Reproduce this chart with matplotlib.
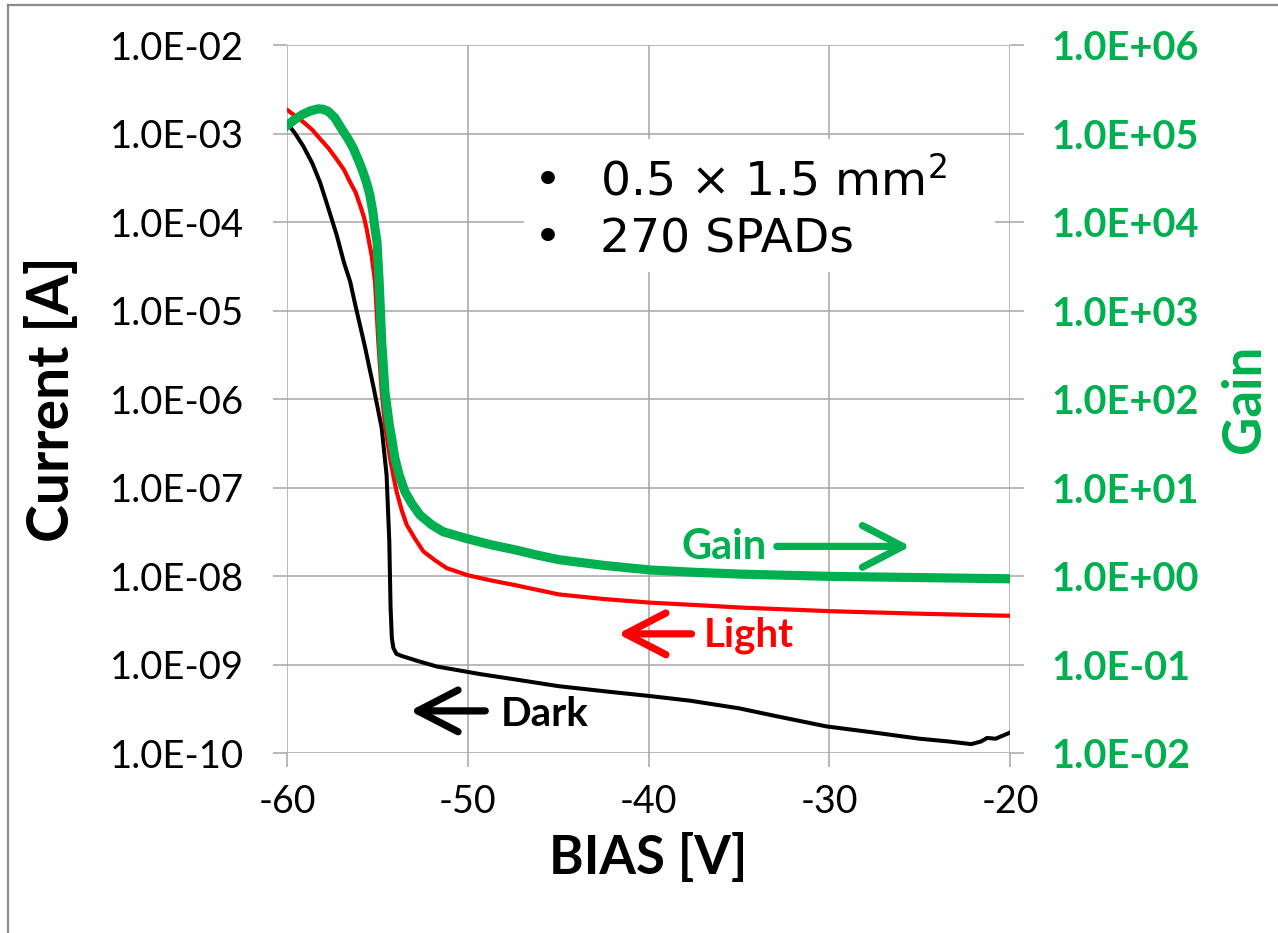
import matplotlib
matplotlib.use("Agg")
import matplotlib.pyplot as plt
from matplotlib.ticker import FixedLocator, FuncFormatter, NullLocator
from matplotlib.patches import Rectangle
from matplotlib.lines import Line2D

# ---------------- data ----------------
bias_dark = [-60, -59.55, -59.1, -58.6, -58.17, -57.7, -57.25, -56.85, -56.5, -56.24,
             -55.7, -55.2, -54.76, -54.49, -54.34, -54.27, -54.2, -54.12, -53.95,
             -53.66, -52.8, -51.72, -49.33, -47.0, -45.0, -42.5, -39.92, -37.7,
             -35.0, -32.9, -30.17, -27.5, -25.0, -23.4, -22.14, -21.6, -21.27,
             -20.8, -20]
current_dark = [1.32e-3, 1.0e-3, 7.2e-4, 4.6e-4, 2.8e-4, 1.4e-4, 7.1e-5, 3.5e-5,
                2.1e-5, 1.2e-5, 4.0e-6, 1.32e-6, 4.7e-7, 1.38e-7, 2.45e-8, 4.4e-9,
                2.0e-9, 1.55e-9, 1.32e-9, 1.25e-9, 1.1e-9, 9.5e-10, 7.8e-10,
                6.6e-10, 5.7e-10, 5.0e-10, 4.4e-10, 3.9e-10, 3.2e-10, 2.6e-10,
                2.0e-10, 1.7e-10, 1.45e-10, 1.35e-10, 1.26e-10, 1.35e-10,
                1.48e-10, 1.45e-10, 1.7e-10]

bias_light = [-60, -59.55, -59.1, -58.6, -58.17, -57.7, -57.25, -56.85, -56.5, -56.2,
              -55.96, -55.75, -55.59, -55.32, -55.13, -54.95, -54.76, -54.58,
              -54.3, -54.1, -53.93, -53.65, -53.38, -52.9, -52.46, -51.8, -51.17,
              -50.0, -48.7, -47.4, -44.97, -42.5, -39.92, -37.4, -34.9, -29.9,
              -25.0, -20]
current_light = [1.86e-3, 1.58e-3, 1.35e-3, 1.1e-3, 8.7e-4, 6.8e-4, 5.1e-4, 3.9e-4,
                 2.8e-4, 2.15e-4, 1.55e-4, 1.15e-4, 8.3e-5, 4.2e-5, 2.1e-5, 4.5e-6,
                 1.2e-6, 5.1e-7, 2.14e-7, 1.3e-7, 8.9e-8, 5.5e-8, 3.8e-8, 2.6e-8,
                 1.9e-8, 1.5e-8, 1.23e-8, 1.02e-8, 8.9e-9, 7.9e-9, 6.2e-9, 5.5e-9,
                 5.0e-9, 4.7e-9, 4.4e-9, 4.0e-9, 3.75e-9, 3.55e-9]

bias_gain = [-60, -59.55, -59.1, -58.7, -58.27, -58.0, -57.72, -57.35, -56.97,
             -56.65, -56.33, -56.05, -55.78, -55.58, -55.41, -55.25, -55.13,
             -55.02, -54.9, -54.76, -54.58, -54.34, -54.2, -54.03, -53.8, -53.48,
             -53.1, -52.65, -52.0, -51.36, -50.0, -48.7, -47.4, -46.2, -44.97,
             -42.5, -39.92, -37.4, -34.9, -29.9, -25.0, -20]
gain = [1.23e5, 1.45e5, 1.66e5, 1.8e5, 1.9e5, 1.88e5, 1.78e5, 1.5e5, 1.12e5,
        8.9e4, 6.8e4, 5.0e4, 3.6e4, 2.7e4, 2.0e4, 1.3e4, 8.3e3, 5.9e3, 2.1e3,
        447, 120, 51, 35, 21.4, 14, 9.0, 6.6, 4.9, 3.8, 3.16, 2.63, 2.25, 1.98,
        1.73, 1.53, 1.32, 1.17, 1.1, 1.05, 0.99, 0.96, 0.93]

x_ticks = [-60, -50, -40, -30, -20]
current_ticks = [1e-10, 1e-9, 1e-8, 1e-7, 1e-6, 1e-5, 1e-4, 1e-3, 1e-2]
gain_ticks = [1e-2, 1e-1, 1e0, 1e1, 1e2, 1e3, 1e4, 1e5, 1e6]

GREEN = "#00B050"
RED = "#FF0000"
GRID = "#A6A6A6"

# ---------------- figure ----------------
fig = plt.figure(figsize=(12.78, 9.33), dpi=100)
ax = fig.add_axes([287 / 1278, 1 - 753 / 933, 723 / 1278, 708 / 933])
ax2 = ax.twinx()

sci = FuncFormatter(lambda v, p: f"{v:.1E}")

ax.set_xlim(-60, -20)
ax.set_yscale("log")
ax.set_ylim(1e-10, 1e-2)
ax.xaxis.set_major_locator(FixedLocator(x_ticks))
ax.yaxis.set_major_locator(FixedLocator(current_ticks))
ax.yaxis.set_minor_locator(NullLocator())
ax.yaxis.set_major_formatter(sci)
ax.xaxis.set_major_formatter(FuncFormatter(lambda v, p: f"{v:.0f}"))
ax.grid(True, color=GRID, linewidth=1.1)
ax.set_axisbelow(True)

ax2.set_yscale("log")
ax2.set_ylim(1e-2, 1e6)
ax2.yaxis.set_major_locator(FixedLocator(gain_ticks))
ax2.yaxis.set_minor_locator(NullLocator())
ax2.yaxis.set_major_formatter(sci)

for a in (ax, ax2):
    for s in a.spines.values():
        s.set_visible(False)

ax.tick_params(axis="y", which="major", direction="out", length=10, width=1.1,
               color=GRID, pad=21, labelsize=27.5, labelcolor="black")
ax.tick_params(axis="x", which="major", direction="out", length=10, width=1.1,
               color=GRID, pad=12, labelsize=27, labelcolor="black")
ax2.tick_params(axis="y", which="major", direction="out", length=10, width=1.1,
                color=GRID, pad=20, labelsize=28.5, labelcolor=GREEN)
for lab in ax.get_xticklabels() + ax.get_yticklabels():
    lab.set_fontfamily("Lato")
for lab in ax2.get_yticklabels():
    lab.set_fontfamily("Lato")
    lab.set_fontweight("bold")

# ---------------- curves ----------------
ax.plot(bias_dark, current_dark, color="black", lw=2.9, solid_joinstyle="round",
        solid_capstyle="round", zorder=3)
ax.plot(bias_light, current_light, color=RED, lw=3.0, solid_joinstyle="round",
        solid_capstyle="round", zorder=3)
ax2.plot(bias_gain, gain, color=GREEN, lw=6.6, solid_joinstyle="round", zorder=3)

# ---------------- labels ----------------
ax.set_xlabel("BIAS [V]", fontfamily="Lato", fontweight="bold", fontsize=38)
ax.set_ylabel("Current [A]", fontfamily="Lato", fontweight="bold", fontsize=41)
ax2.set_ylabel("Gain", fontfamily="Lato", fontweight="bold", fontsize=38, color=GREEN)
ax.xaxis.set_label_coords(0.5, (753 - 858) / 708)
ax.yaxis.set_label_coords((52 - 287) / 723, 0.5)
ax2.yaxis.set_label_coords((1245 - 287) / 723, 0.5)
ax.xaxis.label.set_va("center")
ax.yaxis.label.set_va("center")
ax2.yaxis.label.set_va("center")

# ---------------- text box ----------------
ax.add_patch(Rectangle((-46.9, 2.7e-5), 26.06, 8.6e-4 - 2.7e-5, facecolor="white",
                       edgecolor="none", zorder=1))
box_lines = [r"0.5 × 1.5 mm$^{2}$", "270 SPADs"]
box_y = [2.01e-4, 4.58e-5]
for txt, yy in zip(box_lines, box_y):
    ax.text(-45.56, yy, "•", ha="center", va="baseline", fontsize=34,
            fontfamily="DejaVu Sans", zorder=4)
    ax.text(-42.69, yy, txt, ha="left", va="baseline", fontsize=34,
            fontfamily="DejaVu Sans", zorder=4)

# ---------------- arrow annotations ----------------
def arrow(x0, x1, y, color):
    ax.annotate("", xy=(x1, y), xytext=(x0, y),
                arrowprops=dict(arrowstyle="->,head_length=2.9,head_width=1.5",
                                lw=5.2, color=color, shrinkA=0, shrinkB=0,
                                capstyle="round", joinstyle="round",
                                mutation_scale=10), zorder=4)

ax.text(-38.17, 1.54e-8, "Gain", color=GREEN, fontsize=30, fontfamily="Lato",
        fontweight="bold", ha="left", va="baseline", zorder=4)
arrow(-32.9, -25.5, 2.16e-8, GREEN)
ax.text(-36.96, 1.58e-9, "Light", color=RED, fontsize=29, fontfamily="Lato",
        fontweight="bold", ha="left", va="baseline", zorder=4)
arrow(-37.62, -41.7, 2.22e-9, RED)
ax.text(-48.16, 2.02e-10, "Dark", color="black", fontsize=29, fontfamily="Lato",
        fontweight="bold", ha="left", va="baseline", zorder=4)
arrow(-49.03, -53.2, 2.99e-10, "black")

# ---------------- outer border ----------------
fig.add_artist(Line2D([8 / 1278, 8 / 1278], [0, 1 - 5 / 933], color="#8C8C8C", lw=1.6))
fig.add_artist(Line2D([8 / 1278, 1], [1 - 5 / 933, 1 - 5 / 933], color="#8C8C8C", lw=1.6))

fig.savefig("out.png", dpi=100, facecolor="white")
